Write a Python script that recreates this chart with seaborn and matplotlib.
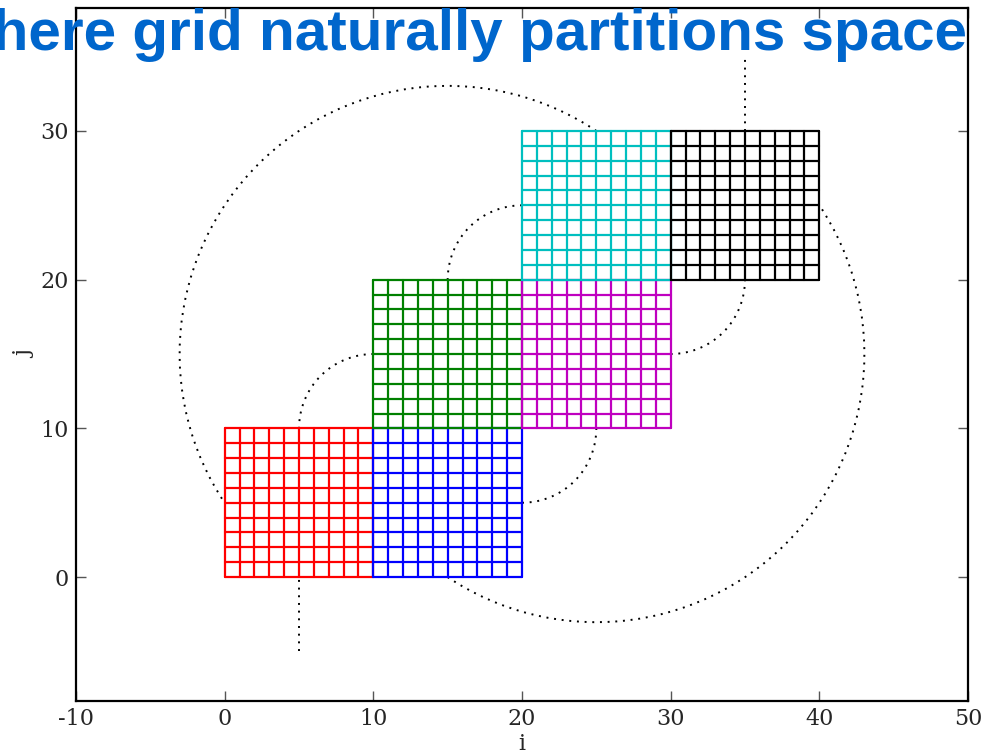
import numpy as np
import pandas as pd
import matplotlib
matplotlib.use('Agg')
import matplotlib.pyplot as plt
from matplotlib.patches import Arc
import seaborn as sns

# grid blocks (lower-left corner in i, j) and their colours
block_names = ['red', 'blue', 'green', 'magenta', 'cyan', 'black']
block_i0 = [0, 10, 10, 20, 20, 30]
block_j0 = [0, 0, 10, 10, 20, 20]
block_colors = ['#ff0000', '#0000ff', '#008000', '#bf00bf', '#00bfbf', '#000000']
block_cells = 10

# dotted path: straight pieces (i0, j0, i1, j1)
path_i0 = [5, 35]
path_j0 = [-5, 30]
path_i1 = [5, 35]
path_j1 = [0, 35]

# dotted path: arcs (centre, radius, start/end angle in degrees)
arc_ci = [10, 20, 30, 20, 25, 15]
arc_cj = [10, 20, 20, 10, 15, 15]
arc_r = [5, 5, 5, 5, 18.03, 18.03]
arc_t1 = [90, 90, 270, 270, 236.3, 56.3]
arc_t2 = [180, 180, 360, 360, 33.7, 213.7]

x_ticks = [-10, 0, 10, 20, 30, 40, 50]
y_ticks = [0, 10, 20, 30]

sns.set_style('ticks')
plt.rcParams['font.family'] = ['DejaVu Serif']
plt.rcParams['axes.unicode_minus'] = False

# build the grid-line segments for every block
rows = []
seg = 0
for name, i0, j0 in zip(block_names, block_i0, block_j0):
    for k in range(block_cells + 1):
        rows.append((name, seg, i0 + k, j0))
        rows.append((name, seg, i0 + k, j0 + block_cells))
        seg += 1
        rows.append((name, seg, i0, j0 + k))
        rows.append((name, seg, i0 + block_cells, j0 + k))
        seg += 1
grid_df = pd.DataFrame(rows, columns=['block', 'seg', 'i', 'j'])

fig = plt.figure(figsize=(9.88, 7.54), dpi=100)
ax = fig.add_axes([76 / 988, 1 - 701 / 754, 892 / 988, 693.5 / 754])

dots = (0, (1, 2.95))

# dotted path (behind the grids)
path_rows = []
for n, (a, b, c, d) in enumerate(zip(path_i0, path_j0, path_i1, path_j1)):
    path_rows.append((n, a, b))
    path_rows.append((n, c, d))
path_df = pd.DataFrame(path_rows, columns=['seg', 'i', 'j'])
sns.lineplot(data=path_df, x='i', y='j', units='seg', estimator=None, sort=False,
             color='black', lw=1.4, linestyle=dots, ax=ax, zorder=1)
for ci, cj, r, t1, t2 in zip(arc_ci, arc_cj, arc_r, arc_t1, arc_t2):
    ax.add_patch(Arc((ci, cj), 2 * r, 2 * r, theta1=t1, theta2=t2,
                     color='black', lw=1.4, linestyle=dots, zorder=1))

sns.lineplot(data=grid_df, x='i', y='j', hue='block', units='seg', estimator=None,
             sort=False, palette=dict(zip(block_names, block_colors)),
             lw=1.6, legend=False, ax=ax, zorder=2)

ax.set_xlim(-10, 50)
ax.set_ylim(-8.33, 38.3)
ax.set_xticks(x_ticks)
ax.set_xticklabels([str(t) for t in x_ticks])
ax.set_yticks(y_ticks)
ax.set_yticklabels([str(t) for t in y_ticks])
ax.tick_params(direction='in', top=True, right=True, length=7, width=1,
               color='#555555', labelsize=16, pad=5)
for sp in ax.spines.values():
    sp.set_linewidth(1.6)
    sp.set_color('black')
ax.set_xlabel('i', fontsize=16, labelpad=2)
ax.set_ylabel('j', fontsize=16, labelpad=3)

fig.text(967 / 988, 1 - 50 / 754, 'Sphere grid naturally partitions space',
         ha='right', va='baseline', fontsize=42, fontweight='bold',
         color='#0066cc', family='Liberation Sans')

fig.savefig('out.png', dpi=100)
